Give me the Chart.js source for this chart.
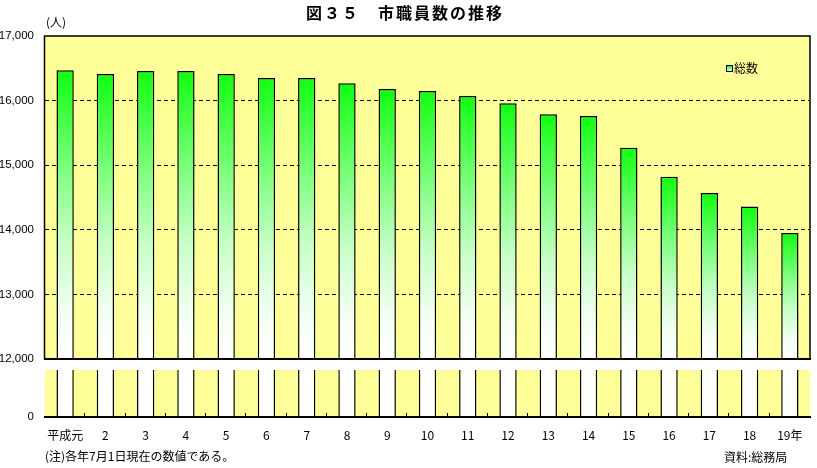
<!DOCTYPE html>
<html>
<head>
<meta charset="utf-8">
<script src="https://cdn.jsdelivr.net/npm/chart.js@4.4.0/dist/chart.umd.min.js"></script>
<style>
body{margin:0;background:#fff;font-family:"Noto Sans CJK JP",sans-serif;}
#wrap{position:relative;width:817px;height:468px;overflow:hidden;}
canvas{position:absolute;left:0;}
#top-chart{top:0;}
#bottom-chart{top:360px;}
.txt{position:absolute;font-size:12px;color:#000;white-space:nowrap;line-height:1;}
#title{left:306px;top:4px;font-size:16px;font-weight:bold;letter-spacing:2px;}
#unit{left:46px;top:16px;}
#legend{left:726px;top:62px;}
#legend .box{display:inline-block;width:5px;height:5px;border:1px solid #000;margin-right:1px;vertical-align:1px;background:linear-gradient(#10ff10,#fff);}
#note{left:45px;top:450px;}
#source{left:724px;top:451px;}
</style>
</head>
<body>
<div id="wrap">
    <canvas id="top-chart" width="817" height="371"></canvas>
    <canvas id="bottom-chart" width="817" height="108"></canvas>
    <div id="title" class="txt">図３５　市職員数の推移</div>
    <div id="unit" class="txt">(人)</div>
    <div id="legend" class="txt"><span class="box"></span>総数</div>
    <div id="note" class="txt">(注)各年7月1日現在の数値である。</div>
    <div id="source" class="txt">資料:総務局</div>
</div>
<script>
// years (Heisei)
var years = ['平成元', '2', '3', '4', '5', '6', '7', '8', '9', '10',
    '11', '12', '13', '14', '15', '16', '17', '18', '19年'];
// total staff
var staffTotal = [16470, 16410, 16460, 16460, 16410, 16350, 16350, 16270, 16180, 16150,
    16070, 15960, 15790, 15760, 15270, 14820, 14570, 14360, 13950];
// axis ticks
var upperTicks = [12000, 13000, 14000, 15000, 16000, 17000];
var lowerTicks = [0];

// yellow plot area
var areaPlugin = {
    id: 'area',
    beforeDraw: function(chart){
        var c = chart.ctx, a = chart.chartArea;
        c.save();
        c.fillStyle = '#ffff99';
        c.fillRect(a.left, a.top, a.right - a.left, a.bottom - a.top);
        c.restore();
    }
};

function barFill(ctx){
    var chart = ctx.chart, a = chart.chartArea;
    if (!a || ctx.type !== 'data') return '#10ff10';
    var top = chart.scales.y.getPixelForValue(ctx.parsed.y);
    var g = chart.ctx.createLinearGradient(0, top, 0, a.bottom);
    g.addColorStop(0, '#10ff10');
    g.addColorStop(0.35, '#80ff80');
    g.addColorStop(0.6, '#c8ffc8');
    g.addColorStop(0.85, '#f4fff4');
    g.addColorStop(1, '#ffffff');
    return g;
}

// fixed y axis width, no label overflow padding
function fitY(s){
    s.width = 45;
    s.paddingTop = 0;
    s.paddingBottom = 0;
}

function init(){
    //上段
    showUpper();
    //下段
    showLower();
}

function showUpper(){
    var framePlugin = {
        id: 'frame',
        afterDraw: function(chart){
            var c = chart.ctx, a = chart.chartArea;
            c.save();
            c.strokeStyle = '#000';
            c.lineWidth = 1.5;
            c.strokeRect(a.left - 0.5, a.top, a.right - a.left + 0.5, a.bottom - a.top);
            c.beginPath();
            c.lineWidth = 2;
            c.moveTo(a.left - 1, a.bottom);
            c.lineTo(a.right + 1, a.bottom);
            c.stroke();
            c.restore();
        }
    };
    new Chart(document.getElementById('top-chart'), {
        type: 'bar',
        data: {
            labels: years,
            datasets: [{
                label: '総数',
                data: staffTotal,
                backgroundColor: barFill,
                borderColor: '#000',
                borderWidth: 1.5,
                barPercentage: 0.43,
                categoryPercentage: 1,
                clip: 0
            }]
        },
        options: {
            responsive: false,
            animation: false,
            layout: {padding: {top: 36, right: 7, bottom: 12, left: 0}},
            plugins: {legend: {display: false}, tooltip: {enabled: false}},
            scales: {
                x: {display: false},
                y: {
                    min: 12000, max: 17000,
                    afterBuildTicks: function(s){ s.ticks = upperTicks.map(function(v){ return {value: v}; }); },
                    afterFit: fitY,
                    ticks: {
                        padding: 11, color: '#000',
                        font: {family: '"Liberation Sans Narrow", "Liberation Sans", Arial', size: 11.5},
                        callback: function(v){ return v.toLocaleString('en-US'); }
                    },
                    grid: {
                        drawTicks: false, lineWidth: 1,
                        color: function(ctx){
                            var v = ctx.tick && ctx.tick.value;
                            return (v > 12000 && v < 17000) ? '#000' : 'rgba(0,0,0,0)';
                        }
                    },
                    border: {display: false, dash: [4, 3]}
                }
            }
        },
        plugins: [areaPlugin, framePlugin]
    });
}

function showLower(){
    var axisPlugin = {
        id: 'axisLine',
        afterDraw: function(chart){
            var c = chart.ctx, a = chart.chartArea, xs = chart.scales.x;
            c.save();
            c.strokeStyle = '#000';
            c.lineWidth = 2;
            c.beginPath();
            c.moveTo(a.left - 1, a.bottom);
            c.lineTo(a.right + 1, a.bottom);
            c.stroke();
            c.lineWidth = 1;
            c.beginPath();
            for (var i = 1; i < years.length; i++) {
                var x = Math.round((xs.getPixelForValue(i - 1) + xs.getPixelForValue(i)) / 2) - 0.5;
                c.moveTo(x, a.bottom);
                c.lineTo(x, a.bottom - 4);
            }
            c.stroke();
            c.restore();
        }
    };
    new Chart(document.getElementById('bottom-chart'), {
        type: 'bar',
        data: {
            labels: years,
            datasets: [{
                label: '総数',
                data: staffTotal,
                backgroundColor: '#ffffff',
                borderColor: '#000',
                borderWidth: 1.5,
                barPercentage: 0.43,
                categoryPercentage: 1,
                clip: 0
            }]
        },
        options: {
            responsive: false,
            animation: false,
            layout: {padding: {top: 10, right: 7, bottom: 0, left: 0}},
            plugins: {legend: {display: false}, tooltip: {enabled: false}},
            scales: {
                x: {
                    afterFit: function(s){ s.height = 51; },
                    grid: {display: false, drawTicks: false},
                    border: {display: false},
                    ticks: {
                        padding: 11, color: '#000', maxRotation: 0, autoSkip: false,
                        font: {family: '"Noto Sans CJK JP"', size: 12}
                    }
                },
                y: {
                    min: 0, max: 1000,
                    afterBuildTicks: function(s){ s.ticks = lowerTicks.map(function(v){ return {value: v}; }); },
                    afterFit: fitY,
                    grid: {display: false, drawTicks: false},
                    border: {display: false},
                    ticks: {
                        padding: 11, color: '#000',
                        font: {family: '"Liberation Sans Narrow", "Liberation Sans", Arial', size: 11.5}
                    }
                }
            }
        },
        plugins: [areaPlugin, axisPlugin]
    });
}

init();
</script>
</body>
</html>
